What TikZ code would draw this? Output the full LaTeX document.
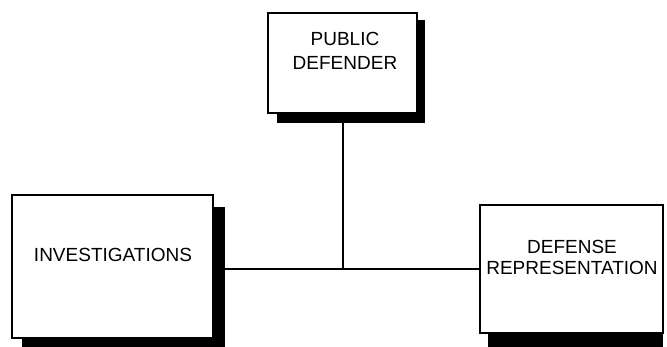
\documentclass[tikz,border=0pt]{standalone}
\usepackage{fontspec}
\setmainfont{Liberation Sans}
\begin{document}
\begin{tikzpicture}[x=1pt,y=-1pt,
  shadowbox/.style={fill=black,draw=none,inner sep=0pt,outer sep=0pt,anchor=north west},
  orgbox/.style={fill=white,draw=black,line width=1.5pt,inner sep=0pt,outer sep=0pt,anchor=north west},
  orgtext/.style={align=center,inner sep=0pt,font=\fontsize{19}{24}\selectfont},
  link/.style={draw=black,line width=1.6pt}]
  \useasboundingbox (0,0) rectangle (667,347);

  % drop shadows
  \node[shadowbox,minimum width=148pt,minimum height=103pt] (pdsh) at (277,20) {};
  \node[shadowbox,minimum width=203pt,minimum height=150pt] (invsh) at (22,207) {};
  \node[shadowbox,minimum width=175pt,minimum height=136pt] (defsh) at (488,216) {};

  % boxes
  \node[orgbox,minimum width=149pt,minimum height=100pt] (pd) at (268,13) {};
  \node[orgbox,minimum width=201pt,minimum height=143pt] (inv) at (12,195) {};
  \node[orgbox,minimum width=183pt,minimum height=128pt] (def) at (480,205) {};

  % labels
  \node[orgtext] (pdtext) at (345,51) {PUBLIC\\DEFENDER};
  \node[orgtext] (invtext) at (113,255) {INVESTIGATIONS};
  \node[orgtext,font=\fontsize{19}{21}\selectfont] (deftext) at (572,257) {DEFENSE\\REPRESENTATION};

  % connectors
  \coordinate (j) at (343,269);
  \draw[link] (invsh.east |- j) -- (def.west |- j);
  \draw[link] (j |- pdsh.south) -- (j);
\end{tikzpicture}
\end{document}
